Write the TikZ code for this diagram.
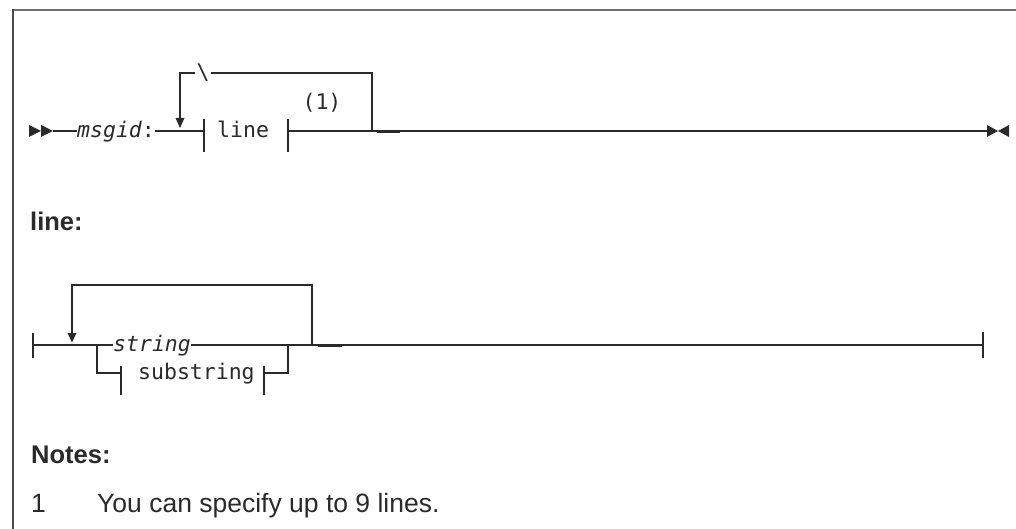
\documentclass[tikz,border=0pt]{standalone}
\usepackage{fontspec}
\setmainfont{Liberation Sans}
\newfontfamily\monofont{DejaVu Sans Mono}
\definecolor{ink}{HTML}{2A2A2A}
\definecolor{framegray}{HTML}{6E6E6E}
\definecolor{frameleft}{HTML}{4A4A4A}
\begin{document}
\begin{tikzpicture}[x=1pt,y=-1pt,
  ln/.style={draw=ink,line width=1.3pt},
  mono/.style={inner sep=0pt,text=ink,font=\monofont\fontsize{21.5}{24}\selectfont,text height=17.5pt,text depth=4.5pt,anchor=west},
  head/.style={inner sep=0pt,text=ink,font=\fontsize{25.5}{30}\selectfont\bfseries,anchor=base west},
  notetext/.style={inner sep=0pt,text=ink,font=\fontsize{26.5}{31}\selectfont,anchor=base west},
  tri/.style={fill=ink}]
\useasboundingbox (0,0) rectangle (1016,529);
% frame
\draw[framegray,line width=2pt] (13,10) -- (1016,10);
\draw[frameleft,line width=2pt] (13,9) -- (13,529);

% ---------- diagram 1 ----------
\coordinate (st) at (29,131);
\coordinate (st2) at (41,131);
\coordinate (m0) at (53,131);
\node[mono] (msgid) at (77,131) {{\itshape msgid}:};
\coordinate (t1) at (204,131);
\node[mono] (linebox) at (217,131) {line};
\coordinate (t2) at (288,131);
\coordinate (j1) at (372,131);
\coordinate (e1) at (987,131);
\coordinate (e2) at (998,131);
\node[inner sep=0pt,text=ink,font=\monofont\fontsize{21.5}{24}\selectfont] (fn) at (322,103) {(1)};
\node[inner sep=1pt,text=ink,font=\monofont\fontsize{21.5}{24}\selectfont] (bs) at (203,73) {\textbackslash};
\coordinate (ltop) at (180,73);
\coordinate (rtop) at (372,73);
\coordinate (arr1) at (180,118);

\fill[tri] (st) ++(0,-6) -- ++(12,6) -- ++(-12,6) -- cycle;
\fill[tri] (st2) ++(0,-6) -- ++(12,6) -- ++(-12,6) -- cycle;
\draw[ln] (m0) -- (msgid.west);
\draw[ln] (msgid.east) -- (t1);
\draw[ln] (t1) ++(0,-12) -- ++(0,33);
\draw[ln] (t2) ++(0,-12) -- ++(0,33);
\draw[ln] (t2) -- (e1);
\draw[ln] (j1) -- (rtop) -- (bs);
\draw[ln] (bs) -- (ltop) -- (arr1);
\fill[tri] (arr1) ++(-4.5,0) -- ++(9,0) -- ++(-4.5,10) -- cycle;
\draw[draw=ink,line width=1.6pt] (377,132.5) -- (400,132.5);
\fill[tri] (e1) ++(0,-6) -- (e2) -- ++(-11,6) -- cycle;
\fill[tri] (e2) ++(11,-6) -- (e2) -- ++(11,6) -- cycle;

% ---------- heading ----------
\node[head] (linehd) at (30,230) {line:};

% ---------- diagram 2 ----------
\coordinate (b0) at (33,345);
\coordinate (br) at (97,345);
\node[mono] (string) at (113,345) {\itshape string};
\coordinate (mj) at (288,345);
\coordinate (j2) at (312,345);
\coordinate (b9) at (983,345);
\coordinate (lt) at (72,285);
\coordinate (rt) at (312,285);
\coordinate (arr2) at (72,333);
\coordinate (s1) at (121,373);
\node[mono] (substring) at (138,373) {substring};
\coordinate (s2) at (264,373);
\coordinate (lowR) at (288,373);

\draw[ln] (b0) ++(0,-12) -- ++(0,25);
\draw[ln] (b9) ++(0,-13) -- ++(0,26);
\draw[ln] (b0) -- (string.west);
\draw[ln] (string.east) -- (b9);
\draw[ln] (br) |- (s1);
\draw[ln] (s1) ++(0,-7) -- ++(0,29);
\draw[ln] (s2) ++(0,-7) -- ++(0,29);
\draw[ln] (s2) -- (lowR) -- (mj);
\draw[ln] (j2) -- (rt) -- (lt) -- (arr2);
\fill[tri] (arr2) ++(-4.5,0) -- ++(9,0) -- ++(-4.5,9.5) -- cycle;
\draw[draw=ink,line width=1.6pt] (318,346.5) -- (342,346.5);

% ---------- notes ----------
\node[head] (notes) at (31,463) {Notes:};
\node[notetext] (n1) at (31,512) {1};
\node[notetext] (n1t) at (97,512) {You can specify up to 9 lines.};
\end{tikzpicture}
\end{document}
